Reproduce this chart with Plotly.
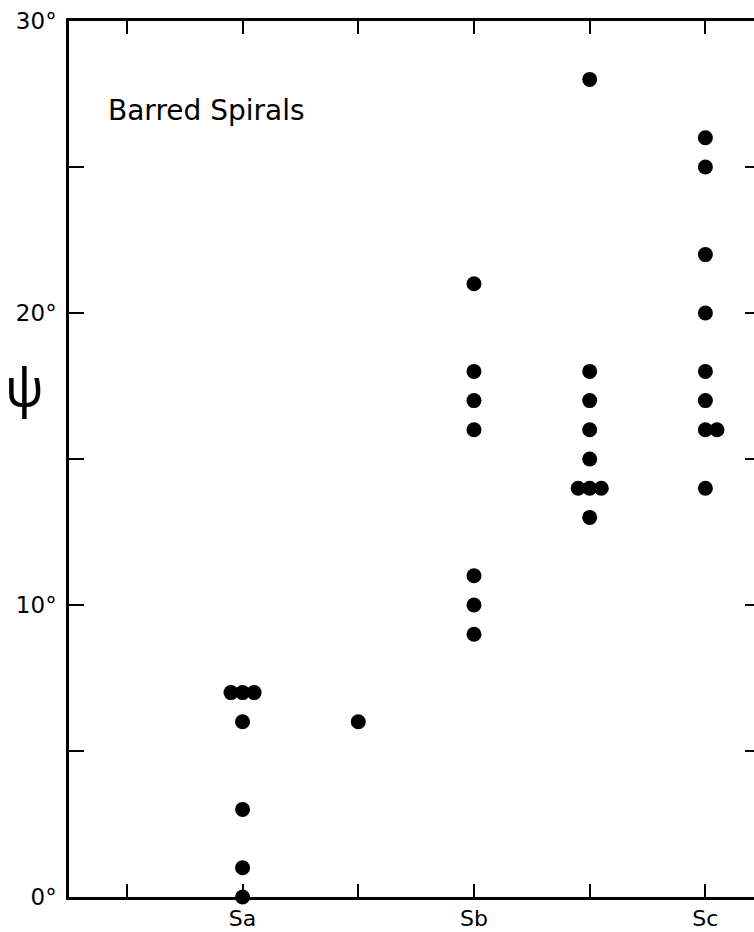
import plotly.graph_objects as go

# Hubble stage positions on the horizontal axis (half steps are intermediate types)
type_labels = ["Sa", "Sb", "Sc"]
type_ticks = [1, 2, 3]

# Pitch angle psi (degrees) for each barred spiral, grouped by stage
stage = [1, 1, 1, 1, 1, 1, 1,
         1.5,
         2, 2, 2, 2, 2, 2, 2,
         2.5, 2.5, 2.5, 2.5, 2.5, 2.5, 2.5, 2.5, 2.5,
         3, 3, 3, 3, 3, 3, 3, 3, 3]
psi = [7, 7, 7, 6, 3, 1, 0,
       6,
       21, 18, 17, 16, 11, 10, 9,
       28, 18, 17, 16, 15, 14, 14, 14, 13,
       26, 25, 22, 20, 18, 17, 16, 16, 14]
# side-by-side offset (in marker widths) for coincident values
dodge = [-1, 0, 1, 0, 0, 0, 0,
         0,
         0, 0, 0, 0, 0, 0, 0,
         0, 0, 0, 0, 0, -1, 0, 1, 0,
         0, 0, 0, 0, 0, 0, 0, 1, 0]

DODGE_STEP = 0.05
xs = [s + d * DODGE_STEP for s, d in zip(stage, dodge)]

FONT = "DejaVu Sans"

fig = go.Figure()
fig.add_trace(go.Scatter(
    x=xs, y=psi, mode="markers",
    marker=dict(size=15, color="black", line=dict(width=0)),
    cliponaxis=False, showlegend=False, hoverinfo="x+y",
))
# carrier for the right-hand tick marks
fig.add_trace(go.Scatter(x=[None], y=[None], yaxis="y2", showlegend=False,
                         hoverinfo="skip"))

y_ticks = [0, 5, 10, 15, 20, 25, 30]
y_text = ["0°", "", "10°", "", "20°", "", "30°"]

fig.update_layout(
    width=754, height=932,
    margin=dict(l=69, r=0, t=21, b=35),
    paper_bgcolor="white", plot_bgcolor="white",
    font=dict(family=FONT, size=22, color="black"),
    xaxis=dict(
        range=[0.25, 3.21],
        tickvals=[0.5, 1, 1.5, 2, 2.5, 3],
        ticktext=["", type_labels[0], "", type_labels[1], "", type_labels[2]],
        ticks="inside", ticklen=13, tickwidth=2, tickcolor="black",
        showline=True, linewidth=2.5, linecolor="black", mirror="ticks",
        showgrid=False, zeroline=False,
        tickfont=dict(size=22),
        ticklabelstandoff=0,
    ),
    yaxis=dict(
        range=[0, 30],
        tickvals=y_ticks, ticktext=y_text,
        ticks="inside", ticklen=15, tickwidth=2, tickcolor="black",
        showline=True, linewidth=2.5, linecolor="black",
        showgrid=False, zeroline=False,
        tickfont=dict(size=23),
        ticklabelstandoff=5,
    ),
    yaxis2=dict(
        range=[0, 30], overlaying="y", side="right", anchor="x",
        tickvals=[5, 10, 15, 20, 25], showticklabels=False,
        ticks="inside", ticklen=9, tickwidth=2, tickcolor="black",
        showline=False, showgrid=False, zeroline=False,
    ),
    annotations=[
        dict(text="Barred Spirals", x=0.41, y=26.95, xref="x", yref="y",
             xanchor="left", yanchor="middle", showarrow=False,
             font=dict(family=FONT, size=28, color="black")),
        dict(text="ψ", x=(24 - 69) / 685, y=(897 - 386) / 876,
             xref="paper", yref="paper", xanchor="center", yanchor="middle",
             showarrow=False,
             font=dict(family="Noto Sans", size=52, color="black")),
    ],
)

fig.write_html("out.html")
